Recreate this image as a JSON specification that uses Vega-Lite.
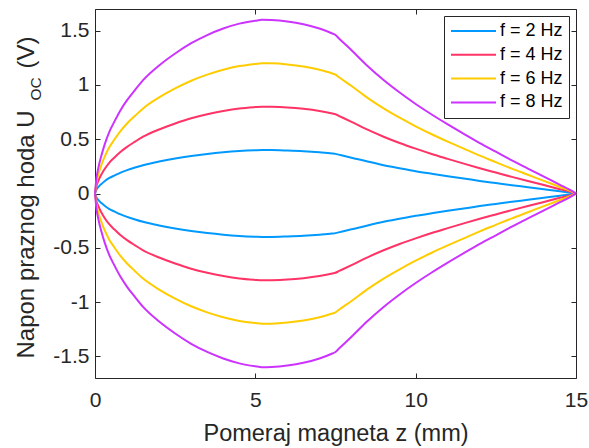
{
"$schema": "https://vega.github.io/schema/vega-lite/v6.json",
"width": 481, "height": 369,
"autosize": {"type": "none"},
"padding": {"left": 95, "top": 9, "right": 13, "bottom": 70},
"background": "white",
"config": {
  "view": {"stroke": null},
  "font": "Liberation Sans",
  "axis": {"grid": false, "domainColor": "#262626", "tickColor": "#262626", "labelColor": "#262626", "titleColor": "#262626", "labelFont": "Liberation Sans", "titleFont": "Liberation Sans", "labelFontSize": 21, "titleFontSize": 24, "titleFontWeight": "normal", "tickSize": -5, "domainWidth": 1, "tickWidth": 1}
},
"data": {"values": [
{"z":0,"v":0,"f":"f = 2 Hz","s":"p"},{"z":0.05,"v":0.038,"f":"f = 2 Hz","s":"p"},{"z":0.1,"v":0.058,"f":"f = 2 Hz","s":"p"},{"z":0.2,"v":0.088,"f":"f = 2 Hz","s":"p"},{"z":0.3,"v":0.113,"f":"f = 2 Hz","s":"p"},{"z":0.45,"v":0.143,"f":"f = 2 Hz","s":"p"},{"z":0.6,"v":0.165,"f":"f = 2 Hz","s":"p"},{"z":0.8,"v":0.193,"f":"f = 2 Hz","s":"p"},{"z":1,"v":0.215,"f":"f = 2 Hz","s":"p"},{"z":1.25,"v":0.239,"f":"f = 2 Hz","s":"p"},{"z":1.5,"v":0.261,"f":"f = 2 Hz","s":"p"},{"z":2,"v":0.295,"f":"f = 2 Hz","s":"p"},{"z":2.5,"v":0.323,"f":"f = 2 Hz","s":"p"},{"z":3,"v":0.346,"f":"f = 2 Hz","s":"p"},{"z":3.5,"v":0.365,"f":"f = 2 Hz","s":"p"},{"z":4,"v":0.38,"f":"f = 2 Hz","s":"p"},{"z":4.5,"v":0.391,"f":"f = 2 Hz","s":"p"},{"z":5,"v":0.398,"f":"f = 2 Hz","s":"p"},{"z":5.2,"v":0.4,"f":"f = 2 Hz","s":"p"},{"z":5.5,"v":0.4,"f":"f = 2 Hz","s":"p"},{"z":6,"v":0.396,"f":"f = 2 Hz","s":"p"},{"z":6.5,"v":0.39,"f":"f = 2 Hz","s":"p"},{"z":7,"v":0.38,"f":"f = 2 Hz","s":"p"},{"z":7.4,"v":0.369,"f":"f = 2 Hz","s":"p"},{"z":7.5,"v":0.365,"f":"f = 2 Hz","s":"p"},{"z":7.6,"v":0.358,"f":"f = 2 Hz","s":"p"},{"z":8,"v":0.33,"f":"f = 2 Hz","s":"p"},{"z":8.5,"v":0.294,"f":"f = 2 Hz","s":"p"},{"z":9,"v":0.261,"f":"f = 2 Hz","s":"p"},{"z":9.5,"v":0.233,"f":"f = 2 Hz","s":"p"},{"z":10,"v":0.206,"f":"f = 2 Hz","s":"p"},{"z":10.5,"v":0.182,"f":"f = 2 Hz","s":"p"},{"z":11,"v":0.159,"f":"f = 2 Hz","s":"p"},{"z":11.5,"v":0.138,"f":"f = 2 Hz","s":"p"},{"z":12,"v":0.116,"f":"f = 2 Hz","s":"p"},{"z":12.5,"v":0.096,"f":"f = 2 Hz","s":"p"},{"z":13,"v":0.076,"f":"f = 2 Hz","s":"p"},{"z":13.5,"v":0.058,"f":"f = 2 Hz","s":"p"},{"z":14,"v":0.039,"f":"f = 2 Hz","s":"p"},{"z":14.5,"v":0.02,"f":"f = 2 Hz","s":"p"},{"z":14.8,"v":0.009,"f":"f = 2 Hz","s":"p"},{"z":15,"v":0,"f":"f = 2 Hz","s":"p"},
{"z":0,"v":0,"f":"f = 2 Hz","s":"n"},{"z":0.05,"v":-0.038,"f":"f = 2 Hz","s":"n"},{"z":0.1,"v":-0.058,"f":"f = 2 Hz","s":"n"},{"z":0.2,"v":-0.088,"f":"f = 2 Hz","s":"n"},{"z":0.3,"v":-0.113,"f":"f = 2 Hz","s":"n"},{"z":0.45,"v":-0.143,"f":"f = 2 Hz","s":"n"},{"z":0.6,"v":-0.165,"f":"f = 2 Hz","s":"n"},{"z":0.8,"v":-0.193,"f":"f = 2 Hz","s":"n"},{"z":1,"v":-0.215,"f":"f = 2 Hz","s":"n"},{"z":1.25,"v":-0.239,"f":"f = 2 Hz","s":"n"},{"z":1.5,"v":-0.261,"f":"f = 2 Hz","s":"n"},{"z":2,"v":-0.295,"f":"f = 2 Hz","s":"n"},{"z":2.5,"v":-0.323,"f":"f = 2 Hz","s":"n"},{"z":3,"v":-0.346,"f":"f = 2 Hz","s":"n"},{"z":3.5,"v":-0.365,"f":"f = 2 Hz","s":"n"},{"z":4,"v":-0.38,"f":"f = 2 Hz","s":"n"},{"z":4.5,"v":-0.391,"f":"f = 2 Hz","s":"n"},{"z":5,"v":-0.398,"f":"f = 2 Hz","s":"n"},{"z":5.2,"v":-0.4,"f":"f = 2 Hz","s":"n"},{"z":5.5,"v":-0.4,"f":"f = 2 Hz","s":"n"},{"z":6,"v":-0.396,"f":"f = 2 Hz","s":"n"},{"z":6.5,"v":-0.39,"f":"f = 2 Hz","s":"n"},{"z":7,"v":-0.38,"f":"f = 2 Hz","s":"n"},{"z":7.4,"v":-0.369,"f":"f = 2 Hz","s":"n"},{"z":7.5,"v":-0.365,"f":"f = 2 Hz","s":"n"},{"z":7.6,"v":-0.358,"f":"f = 2 Hz","s":"n"},{"z":8,"v":-0.33,"f":"f = 2 Hz","s":"n"},{"z":8.5,"v":-0.294,"f":"f = 2 Hz","s":"n"},{"z":9,"v":-0.261,"f":"f = 2 Hz","s":"n"},{"z":9.5,"v":-0.233,"f":"f = 2 Hz","s":"n"},{"z":10,"v":-0.206,"f":"f = 2 Hz","s":"n"},{"z":10.5,"v":-0.182,"f":"f = 2 Hz","s":"n"},{"z":11,"v":-0.159,"f":"f = 2 Hz","s":"n"},{"z":11.5,"v":-0.138,"f":"f = 2 Hz","s":"n"},{"z":12,"v":-0.116,"f":"f = 2 Hz","s":"n"},{"z":12.5,"v":-0.096,"f":"f = 2 Hz","s":"n"},{"z":13,"v":-0.076,"f":"f = 2 Hz","s":"n"},{"z":13.5,"v":-0.058,"f":"f = 2 Hz","s":"n"},{"z":14,"v":-0.039,"f":"f = 2 Hz","s":"n"},{"z":14.5,"v":-0.02,"f":"f = 2 Hz","s":"n"},{"z":14.8,"v":-0.009,"f":"f = 2 Hz","s":"n"},{"z":15,"v":0,"f":"f = 2 Hz","s":"n"},
{"z":0,"v":0,"f":"f = 4 Hz","s":"p"},{"z":0.05,"v":0.075,"f":"f = 4 Hz","s":"p"},{"z":0.1,"v":0.115,"f":"f = 4 Hz","s":"p"},{"z":0.2,"v":0.175,"f":"f = 4 Hz","s":"p"},{"z":0.3,"v":0.225,"f":"f = 4 Hz","s":"p"},{"z":0.45,"v":0.285,"f":"f = 4 Hz","s":"p"},{"z":0.6,"v":0.33,"f":"f = 4 Hz","s":"p"},{"z":0.8,"v":0.385,"f":"f = 4 Hz","s":"p"},{"z":1,"v":0.43,"f":"f = 4 Hz","s":"p"},{"z":1.25,"v":0.478,"f":"f = 4 Hz","s":"p"},{"z":1.5,"v":0.523,"f":"f = 4 Hz","s":"p"},{"z":2,"v":0.59,"f":"f = 4 Hz","s":"p"},{"z":2.5,"v":0.645,"f":"f = 4 Hz","s":"p"},{"z":3,"v":0.693,"f":"f = 4 Hz","s":"p"},{"z":3.5,"v":0.73,"f":"f = 4 Hz","s":"p"},{"z":4,"v":0.76,"f":"f = 4 Hz","s":"p"},{"z":4.5,"v":0.783,"f":"f = 4 Hz","s":"p"},{"z":5,"v":0.796,"f":"f = 4 Hz","s":"p"},{"z":5.2,"v":0.8,"f":"f = 4 Hz","s":"p"},{"z":5.5,"v":0.799,"f":"f = 4 Hz","s":"p"},{"z":6,"v":0.793,"f":"f = 4 Hz","s":"p"},{"z":6.5,"v":0.78,"f":"f = 4 Hz","s":"p"},{"z":7,"v":0.76,"f":"f = 4 Hz","s":"p"},{"z":7.4,"v":0.737,"f":"f = 4 Hz","s":"p"},{"z":7.5,"v":0.73,"f":"f = 4 Hz","s":"p"},{"z":7.6,"v":0.716,"f":"f = 4 Hz","s":"p"},{"z":8,"v":0.66,"f":"f = 4 Hz","s":"p"},{"z":8.5,"v":0.588,"f":"f = 4 Hz","s":"p"},{"z":9,"v":0.523,"f":"f = 4 Hz","s":"p"},{"z":9.5,"v":0.465,"f":"f = 4 Hz","s":"p"},{"z":10,"v":0.413,"f":"f = 4 Hz","s":"p"},{"z":10.5,"v":0.364,"f":"f = 4 Hz","s":"p"},{"z":11,"v":0.319,"f":"f = 4 Hz","s":"p"},{"z":11.5,"v":0.275,"f":"f = 4 Hz","s":"p"},{"z":12,"v":0.233,"f":"f = 4 Hz","s":"p"},{"z":12.5,"v":0.193,"f":"f = 4 Hz","s":"p"},{"z":13,"v":0.153,"f":"f = 4 Hz","s":"p"},{"z":13.5,"v":0.115,"f":"f = 4 Hz","s":"p"},{"z":14,"v":0.078,"f":"f = 4 Hz","s":"p"},{"z":14.5,"v":0.04,"f":"f = 4 Hz","s":"p"},{"z":14.8,"v":0.018,"f":"f = 4 Hz","s":"p"},{"z":15,"v":0,"f":"f = 4 Hz","s":"p"},
{"z":0,"v":0,"f":"f = 4 Hz","s":"n"},{"z":0.05,"v":-0.075,"f":"f = 4 Hz","s":"n"},{"z":0.1,"v":-0.115,"f":"f = 4 Hz","s":"n"},{"z":0.2,"v":-0.175,"f":"f = 4 Hz","s":"n"},{"z":0.3,"v":-0.225,"f":"f = 4 Hz","s":"n"},{"z":0.45,"v":-0.285,"f":"f = 4 Hz","s":"n"},{"z":0.6,"v":-0.33,"f":"f = 4 Hz","s":"n"},{"z":0.8,"v":-0.385,"f":"f = 4 Hz","s":"n"},{"z":1,"v":-0.43,"f":"f = 4 Hz","s":"n"},{"z":1.25,"v":-0.478,"f":"f = 4 Hz","s":"n"},{"z":1.5,"v":-0.523,"f":"f = 4 Hz","s":"n"},{"z":2,"v":-0.59,"f":"f = 4 Hz","s":"n"},{"z":2.5,"v":-0.645,"f":"f = 4 Hz","s":"n"},{"z":3,"v":-0.693,"f":"f = 4 Hz","s":"n"},{"z":3.5,"v":-0.73,"f":"f = 4 Hz","s":"n"},{"z":4,"v":-0.76,"f":"f = 4 Hz","s":"n"},{"z":4.5,"v":-0.783,"f":"f = 4 Hz","s":"n"},{"z":5,"v":-0.796,"f":"f = 4 Hz","s":"n"},{"z":5.2,"v":-0.8,"f":"f = 4 Hz","s":"n"},{"z":5.5,"v":-0.799,"f":"f = 4 Hz","s":"n"},{"z":6,"v":-0.793,"f":"f = 4 Hz","s":"n"},{"z":6.5,"v":-0.78,"f":"f = 4 Hz","s":"n"},{"z":7,"v":-0.76,"f":"f = 4 Hz","s":"n"},{"z":7.4,"v":-0.737,"f":"f = 4 Hz","s":"n"},{"z":7.5,"v":-0.73,"f":"f = 4 Hz","s":"n"},{"z":7.6,"v":-0.716,"f":"f = 4 Hz","s":"n"},{"z":8,"v":-0.66,"f":"f = 4 Hz","s":"n"},{"z":8.5,"v":-0.588,"f":"f = 4 Hz","s":"n"},{"z":9,"v":-0.523,"f":"f = 4 Hz","s":"n"},{"z":9.5,"v":-0.465,"f":"f = 4 Hz","s":"n"},{"z":10,"v":-0.413,"f":"f = 4 Hz","s":"n"},{"z":10.5,"v":-0.364,"f":"f = 4 Hz","s":"n"},{"z":11,"v":-0.319,"f":"f = 4 Hz","s":"n"},{"z":11.5,"v":-0.275,"f":"f = 4 Hz","s":"n"},{"z":12,"v":-0.233,"f":"f = 4 Hz","s":"n"},{"z":12.5,"v":-0.193,"f":"f = 4 Hz","s":"n"},{"z":13,"v":-0.153,"f":"f = 4 Hz","s":"n"},{"z":13.5,"v":-0.115,"f":"f = 4 Hz","s":"n"},{"z":14,"v":-0.078,"f":"f = 4 Hz","s":"n"},{"z":14.5,"v":-0.04,"f":"f = 4 Hz","s":"n"},{"z":14.8,"v":-0.018,"f":"f = 4 Hz","s":"n"},{"z":15,"v":0,"f":"f = 4 Hz","s":"n"},
{"z":0,"v":0,"f":"f = 6 Hz","s":"p"},{"z":0.05,"v":0.113,"f":"f = 6 Hz","s":"p"},{"z":0.1,"v":0.173,"f":"f = 6 Hz","s":"p"},{"z":0.2,"v":0.263,"f":"f = 6 Hz","s":"p"},{"z":0.3,"v":0.338,"f":"f = 6 Hz","s":"p"},{"z":0.45,"v":0.428,"f":"f = 6 Hz","s":"p"},{"z":0.6,"v":0.495,"f":"f = 6 Hz","s":"p"},{"z":0.8,"v":0.578,"f":"f = 6 Hz","s":"p"},{"z":1,"v":0.645,"f":"f = 6 Hz","s":"p"},{"z":1.25,"v":0.716,"f":"f = 6 Hz","s":"p"},{"z":1.5,"v":0.784,"f":"f = 6 Hz","s":"p"},{"z":2,"v":0.885,"f":"f = 6 Hz","s":"p"},{"z":2.5,"v":0.968,"f":"f = 6 Hz","s":"p"},{"z":3,"v":1.039,"f":"f = 6 Hz","s":"p"},{"z":3.5,"v":1.095,"f":"f = 6 Hz","s":"p"},{"z":4,"v":1.14,"f":"f = 6 Hz","s":"p"},{"z":4.5,"v":1.174,"f":"f = 6 Hz","s":"p"},{"z":5,"v":1.194,"f":"f = 6 Hz","s":"p"},{"z":5.2,"v":1.2,"f":"f = 6 Hz","s":"p"},{"z":5.5,"v":1.199,"f":"f = 6 Hz","s":"p"},{"z":6,"v":1.189,"f":"f = 6 Hz","s":"p"},{"z":6.5,"v":1.17,"f":"f = 6 Hz","s":"p"},{"z":7,"v":1.14,"f":"f = 6 Hz","s":"p"},{"z":7.4,"v":1.106,"f":"f = 6 Hz","s":"p"},{"z":7.5,"v":1.095,"f":"f = 6 Hz","s":"p"},{"z":7.6,"v":1.073,"f":"f = 6 Hz","s":"p"},{"z":8,"v":0.99,"f":"f = 6 Hz","s":"p"},{"z":8.5,"v":0.881,"f":"f = 6 Hz","s":"p"},{"z":9,"v":0.784,"f":"f = 6 Hz","s":"p"},{"z":9.5,"v":0.698,"f":"f = 6 Hz","s":"p"},{"z":10,"v":0.619,"f":"f = 6 Hz","s":"p"},{"z":10.5,"v":0.546,"f":"f = 6 Hz","s":"p"},{"z":11,"v":0.478,"f":"f = 6 Hz","s":"p"},{"z":11.5,"v":0.413,"f":"f = 6 Hz","s":"p"},{"z":12,"v":0.349,"f":"f = 6 Hz","s":"p"},{"z":12.5,"v":0.289,"f":"f = 6 Hz","s":"p"},{"z":13,"v":0.229,"f":"f = 6 Hz","s":"p"},{"z":13.5,"v":0.173,"f":"f = 6 Hz","s":"p"},{"z":14,"v":0.116,"f":"f = 6 Hz","s":"p"},{"z":14.5,"v":0.06,"f":"f = 6 Hz","s":"p"},{"z":14.8,"v":0.026,"f":"f = 6 Hz","s":"p"},{"z":15,"v":0,"f":"f = 6 Hz","s":"p"},
{"z":0,"v":0,"f":"f = 6 Hz","s":"n"},{"z":0.05,"v":-0.113,"f":"f = 6 Hz","s":"n"},{"z":0.1,"v":-0.173,"f":"f = 6 Hz","s":"n"},{"z":0.2,"v":-0.263,"f":"f = 6 Hz","s":"n"},{"z":0.3,"v":-0.338,"f":"f = 6 Hz","s":"n"},{"z":0.45,"v":-0.428,"f":"f = 6 Hz","s":"n"},{"z":0.6,"v":-0.495,"f":"f = 6 Hz","s":"n"},{"z":0.8,"v":-0.578,"f":"f = 6 Hz","s":"n"},{"z":1,"v":-0.645,"f":"f = 6 Hz","s":"n"},{"z":1.25,"v":-0.716,"f":"f = 6 Hz","s":"n"},{"z":1.5,"v":-0.784,"f":"f = 6 Hz","s":"n"},{"z":2,"v":-0.885,"f":"f = 6 Hz","s":"n"},{"z":2.5,"v":-0.968,"f":"f = 6 Hz","s":"n"},{"z":3,"v":-1.039,"f":"f = 6 Hz","s":"n"},{"z":3.5,"v":-1.095,"f":"f = 6 Hz","s":"n"},{"z":4,"v":-1.14,"f":"f = 6 Hz","s":"n"},{"z":4.5,"v":-1.174,"f":"f = 6 Hz","s":"n"},{"z":5,"v":-1.194,"f":"f = 6 Hz","s":"n"},{"z":5.2,"v":-1.2,"f":"f = 6 Hz","s":"n"},{"z":5.5,"v":-1.199,"f":"f = 6 Hz","s":"n"},{"z":6,"v":-1.189,"f":"f = 6 Hz","s":"n"},{"z":6.5,"v":-1.17,"f":"f = 6 Hz","s":"n"},{"z":7,"v":-1.14,"f":"f = 6 Hz","s":"n"},{"z":7.4,"v":-1.106,"f":"f = 6 Hz","s":"n"},{"z":7.5,"v":-1.095,"f":"f = 6 Hz","s":"n"},{"z":7.6,"v":-1.073,"f":"f = 6 Hz","s":"n"},{"z":8,"v":-0.99,"f":"f = 6 Hz","s":"n"},{"z":8.5,"v":-0.881,"f":"f = 6 Hz","s":"n"},{"z":9,"v":-0.784,"f":"f = 6 Hz","s":"n"},{"z":9.5,"v":-0.698,"f":"f = 6 Hz","s":"n"},{"z":10,"v":-0.619,"f":"f = 6 Hz","s":"n"},{"z":10.5,"v":-0.546,"f":"f = 6 Hz","s":"n"},{"z":11,"v":-0.478,"f":"f = 6 Hz","s":"n"},{"z":11.5,"v":-0.413,"f":"f = 6 Hz","s":"n"},{"z":12,"v":-0.349,"f":"f = 6 Hz","s":"n"},{"z":12.5,"v":-0.289,"f":"f = 6 Hz","s":"n"},{"z":13,"v":-0.229,"f":"f = 6 Hz","s":"n"},{"z":13.5,"v":-0.173,"f":"f = 6 Hz","s":"n"},{"z":14,"v":-0.116,"f":"f = 6 Hz","s":"n"},{"z":14.5,"v":-0.06,"f":"f = 6 Hz","s":"n"},{"z":14.8,"v":-0.026,"f":"f = 6 Hz","s":"n"},{"z":15,"v":0,"f":"f = 6 Hz","s":"n"},
{"z":0,"v":0,"f":"f = 8 Hz","s":"p"},{"z":0.05,"v":0.15,"f":"f = 8 Hz","s":"p"},{"z":0.1,"v":0.23,"f":"f = 8 Hz","s":"p"},{"z":0.2,"v":0.35,"f":"f = 8 Hz","s":"p"},{"z":0.3,"v":0.45,"f":"f = 8 Hz","s":"p"},{"z":0.45,"v":0.57,"f":"f = 8 Hz","s":"p"},{"z":0.6,"v":0.66,"f":"f = 8 Hz","s":"p"},{"z":0.8,"v":0.77,"f":"f = 8 Hz","s":"p"},{"z":1,"v":0.86,"f":"f = 8 Hz","s":"p"},{"z":1.25,"v":0.955,"f":"f = 8 Hz","s":"p"},{"z":1.5,"v":1.045,"f":"f = 8 Hz","s":"p"},{"z":2,"v":1.18,"f":"f = 8 Hz","s":"p"},{"z":2.5,"v":1.29,"f":"f = 8 Hz","s":"p"},{"z":3,"v":1.385,"f":"f = 8 Hz","s":"p"},{"z":3.5,"v":1.46,"f":"f = 8 Hz","s":"p"},{"z":4,"v":1.52,"f":"f = 8 Hz","s":"p"},{"z":4.5,"v":1.565,"f":"f = 8 Hz","s":"p"},{"z":5,"v":1.592,"f":"f = 8 Hz","s":"p"},{"z":5.2,"v":1.6,"f":"f = 8 Hz","s":"p"},{"z":5.5,"v":1.598,"f":"f = 8 Hz","s":"p"},{"z":6,"v":1.585,"f":"f = 8 Hz","s":"p"},{"z":6.5,"v":1.56,"f":"f = 8 Hz","s":"p"},{"z":7,"v":1.52,"f":"f = 8 Hz","s":"p"},{"z":7.4,"v":1.474,"f":"f = 8 Hz","s":"p"},{"z":7.5,"v":1.46,"f":"f = 8 Hz","s":"p"},{"z":7.6,"v":1.431,"f":"f = 8 Hz","s":"p"},{"z":8,"v":1.32,"f":"f = 8 Hz","s":"p"},{"z":8.5,"v":1.175,"f":"f = 8 Hz","s":"p"},{"z":9,"v":1.045,"f":"f = 8 Hz","s":"p"},{"z":9.5,"v":0.93,"f":"f = 8 Hz","s":"p"},{"z":10,"v":0.825,"f":"f = 8 Hz","s":"p"},{"z":10.5,"v":0.728,"f":"f = 8 Hz","s":"p"},{"z":11,"v":0.637,"f":"f = 8 Hz","s":"p"},{"z":11.5,"v":0.55,"f":"f = 8 Hz","s":"p"},{"z":12,"v":0.465,"f":"f = 8 Hz","s":"p"},{"z":12.5,"v":0.385,"f":"f = 8 Hz","s":"p"},{"z":13,"v":0.305,"f":"f = 8 Hz","s":"p"},{"z":13.5,"v":0.23,"f":"f = 8 Hz","s":"p"},{"z":14,"v":0.155,"f":"f = 8 Hz","s":"p"},{"z":14.5,"v":0.08,"f":"f = 8 Hz","s":"p"},{"z":14.8,"v":0.035,"f":"f = 8 Hz","s":"p"},{"z":15,"v":0,"f":"f = 8 Hz","s":"p"},
{"z":0,"v":0,"f":"f = 8 Hz","s":"n"},{"z":0.05,"v":-0.15,"f":"f = 8 Hz","s":"n"},{"z":0.1,"v":-0.23,"f":"f = 8 Hz","s":"n"},{"z":0.2,"v":-0.35,"f":"f = 8 Hz","s":"n"},{"z":0.3,"v":-0.45,"f":"f = 8 Hz","s":"n"},{"z":0.45,"v":-0.57,"f":"f = 8 Hz","s":"n"},{"z":0.6,"v":-0.66,"f":"f = 8 Hz","s":"n"},{"z":0.8,"v":-0.77,"f":"f = 8 Hz","s":"n"},{"z":1,"v":-0.86,"f":"f = 8 Hz","s":"n"},{"z":1.25,"v":-0.955,"f":"f = 8 Hz","s":"n"},{"z":1.5,"v":-1.045,"f":"f = 8 Hz","s":"n"},{"z":2,"v":-1.18,"f":"f = 8 Hz","s":"n"},{"z":2.5,"v":-1.29,"f":"f = 8 Hz","s":"n"},{"z":3,"v":-1.385,"f":"f = 8 Hz","s":"n"},{"z":3.5,"v":-1.46,"f":"f = 8 Hz","s":"n"},{"z":4,"v":-1.52,"f":"f = 8 Hz","s":"n"},{"z":4.5,"v":-1.565,"f":"f = 8 Hz","s":"n"},{"z":5,"v":-1.592,"f":"f = 8 Hz","s":"n"},{"z":5.2,"v":-1.6,"f":"f = 8 Hz","s":"n"},{"z":5.5,"v":-1.598,"f":"f = 8 Hz","s":"n"},{"z":6,"v":-1.585,"f":"f = 8 Hz","s":"n"},{"z":6.5,"v":-1.56,"f":"f = 8 Hz","s":"n"},{"z":7,"v":-1.52,"f":"f = 8 Hz","s":"n"},{"z":7.4,"v":-1.474,"f":"f = 8 Hz","s":"n"},{"z":7.5,"v":-1.46,"f":"f = 8 Hz","s":"n"},{"z":7.6,"v":-1.431,"f":"f = 8 Hz","s":"n"},{"z":8,"v":-1.32,"f":"f = 8 Hz","s":"n"},{"z":8.5,"v":-1.175,"f":"f = 8 Hz","s":"n"},{"z":9,"v":-1.045,"f":"f = 8 Hz","s":"n"},{"z":9.5,"v":-0.93,"f":"f = 8 Hz","s":"n"},{"z":10,"v":-0.825,"f":"f = 8 Hz","s":"n"},{"z":10.5,"v":-0.728,"f":"f = 8 Hz","s":"n"},{"z":11,"v":-0.637,"f":"f = 8 Hz","s":"n"},{"z":11.5,"v":-0.55,"f":"f = 8 Hz","s":"n"},{"z":12,"v":-0.465,"f":"f = 8 Hz","s":"n"},{"z":12.5,"v":-0.385,"f":"f = 8 Hz","s":"n"},{"z":13,"v":-0.305,"f":"f = 8 Hz","s":"n"},{"z":13.5,"v":-0.23,"f":"f = 8 Hz","s":"n"},{"z":14,"v":-0.155,"f":"f = 8 Hz","s":"n"},{"z":14.5,"v":-0.08,"f":"f = 8 Hz","s":"n"},{"z":14.8,"v":-0.035,"f":"f = 8 Hz","s":"n"},{"z":15,"v":0,"f":"f = 8 Hz","s":"n"}
]},
"layer": [
  {
    "mark": {"type": "line", "strokeWidth": 2, "interpolate": "monotone"},
    "encoding": {
      "x": {"field": "z", "type": "quantitative", "scale": {"domain": [0, 15], "nice": false, "zero": false},
        "axis": {"values": [0, 5, 10, 15], "labelFlush": false, "labelPadding": 16, "title": "Pomeraj magneta z (mm)", "titleFontSize": 23.5, "titleBaseline": "alphabetic", "titleY": 62}},
      "y": {"field": "v", "type": "quantitative", "scale": {"domain": [-1.7, 1.7], "nice": false, "zero": false},
        "axis": {"values": [-1.5, -1, -0.5, 0, 0.5, 1, 1.5], "labelExpr": "'' + datum.value", "labelFlush": false, "labelPadding": 11, "title": "Napon praznog hoda U", "titleX": -62, "titleY": 349, "titleAngle": 270, "titleAlign": "left", "titleBaseline": "alphabetic"}},
      "color": {"field": "f", "type": "nominal",
        "scale": {"domain": ["f = 2 Hz", "f = 4 Hz", "f = 6 Hz", "f = 8 Hz"], "range": ["#0099FF", "#FF3366", "#FFCC00", "#CC33FF"]},
        "legend": {"title": null, "orient": "top-right", "offset": 7, "labelFont": "Liberation Sans", "labelFontSize": 18, "labelColor": "#000000", "symbolType": "stroke", "symbolSize": 2025, "symbolStrokeWidth": 2, "strokeColor": "#262626", "fillColor": "white", "padding": 6, "clipHeight": 18, "rowPadding": 5.8, "labelOffset": 3, "labelLimit": 300}},
      "detail": {"field": "s"}
    }
  },
  {
    "mark": {"type": "line", "opacity": 0},
    "encoding": {
      "x": {"field": "z", "type": "quantitative",
        "axis": {"orient": "top", "values": [0, 5, 10, 15], "labels": false, "title": "(V)", "titleX": -62, "titleY": 59, "titleAngle": 270, "titleAlign": "left", "titleBaseline": "alphabetic"}},
      "y": {"field": "v", "type": "quantitative",
        "axis": {"orient": "right", "values": [-1.5, -1, -0.5, 0, 0.5, 1, 1.5], "labels": false, "title": "OC", "titleFontSize": 15.5, "titleX": -536, "titleY": 91, "titleAngle": 270, "titleAlign": "left", "titleBaseline": "alphabetic"}},
      "detail": {"field": "s"}
    }
  }
],
"resolve": {"axis": {"x": "independent", "y": "independent"}}
}
